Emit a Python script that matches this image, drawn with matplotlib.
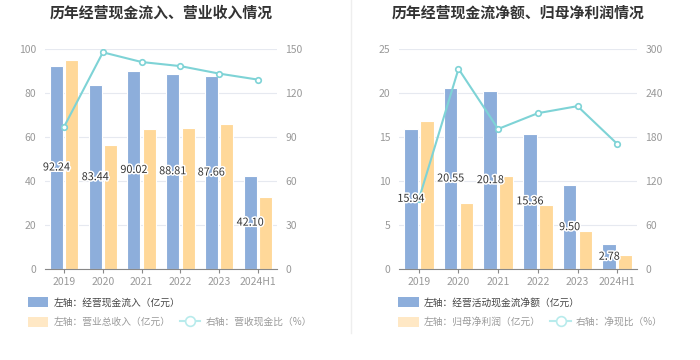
import numpy as np
import matplotlib
matplotlib.use('Agg')
import matplotlib.pyplot as plt
import matplotlib.patheffects as pe
from matplotlib.patches import Patch
from matplotlib.lines import Line2D

plt.rcParams['font.family'] = ['Noto Sans CJK SC', 'DejaVu Sans']

# 数据
years = ['2019', '2020', '2021', '2022', '2023', '2024H1']

# 左图：经营现金流入 / 营业总收入 / 营收现金比
cash_in = [92.24, 83.44, 90.02, 88.81, 87.66, 42.10]
revenue = [95.0, 56.5, 63.8, 64.2, 65.8, 32.6]
cash_rev_ratio = [97.1, 147.7, 141.1, 138.3, 133.2, 129.1]

# 右图：经营活动现金流净额 / 归母净利润 / 净现比
net_cash = [15.94, 20.55, 20.18, 15.36, 9.50, 2.78]
net_profit = [16.82, 7.53, 10.57, 7.23, 4.28, 1.63]
net_cash_ratio = [94.8, 272.9, 190.9, 212.4, 222.0, 170.6]

BLUE = '#8DAEDB'
ORANGE = '#FFD899'
CYAN = '#7ED3D6'
TICK = '#999999'
GRID = '#E6E9F0'

fig = plt.figure(figsize=(7, 3.6), dpi=100)


def draw_panel(rect, title, bars1, bars2, line, ylim1, yticks1, ylim2, yticks2,
               leg_x, name1, name2, name3):
    ax = fig.add_axes(rect)
    ax2 = ax.twinx()
    x = np.arange(len(years))
    w = 0.34
    ax.bar(x - 0.2, bars1, w, color=BLUE, edgecolor='white', linewidth=0.8, zorder=2)
    ax.bar(x + 0.2, bars2, w, color=ORANGE, edgecolor='white', linewidth=0.8, zorder=2)
    ax.set_ylim(*ylim1)
    ax.set_yticks(yticks1)
    ax.set_xlim(-0.5, len(years) - 0.5)
    ax.set_xticks(x)
    ax.set_xticklabels(years)
    ax.grid(axis='y', color=GRID, linewidth=0.8, zorder=0)
    ax.set_axisbelow(True)
    for s in ['top', 'left', 'right']:
        ax.spines[s].set_visible(False)
    ax.spines['bottom'].set_color('#888888')
    ax.tick_params(axis='y', length=0, colors=TICK, labelsize=7.5, pad=6)
    ax.tick_params(axis='x', length=3, color='#888888', colors=TICK, labelsize=7.5, pad=3)

    ax2.plot(x, line, color=CYAN, linewidth=1.5, marker='o', markersize=4,
             markerfacecolor='white', markeredgecolor=CYAN, markeredgewidth=1.2, zorder=3)
    ax2.set_ylim(*ylim2)
    ax2.set_yticks(yticks2)
    for s in ['top', 'left', 'right', 'bottom']:
        ax2.spines[s].set_visible(False)
    ax2.tick_params(axis='y', length=0, colors=TICK, labelsize=7.5, pad=6)

    # 柱中间的数值标签
    for xi, v in zip(x, bars1):
        t = ax2.text(xi - 0.2, v / 2, f'{v:.2f}', transform=ax.transData,
                     ha='center', va='center', fontsize=7.8, color='#333333', zorder=5)
        t.set_path_effects([pe.withStroke(linewidth=2.2, foreground='white')])

    fig.text(rect[0] + rect[2] / 2, 0.965, title, ha='center', va='center',
             fontsize=10.7, fontweight='bold', color='#333333')

    h1 = Patch(facecolor=BLUE, edgecolor='none')
    h2 = Patch(facecolor='#FFE8C5', edgecolor='none')
    h3 = Line2D([], [], color='#B8EBEC', linewidth=1.5, marker='o', markersize=7,
                markerfacecolor='white', markeredgecolor='#B8EBEC', markeredgewidth=1.2)
    lg1 = fig.legend([h1], [name1], loc='center left', bbox_to_anchor=(leg_x, 0.161),
                     frameon=False, fontsize=7, handlelength=2.1, handleheight=1.3,
                     handletextpad=0.5, borderpad=0, borderaxespad=0)
    for t in lg1.get_texts():
        t.set_color('#444444')
    lg2 = fig.legend([h2, h3], [name2, name3], loc='center left', bbox_to_anchor=(leg_x, 0.106),
                     frameon=False, fontsize=7, handlelength=2.1, handleheight=1.3,
                     handletextpad=0.5, borderpad=0, borderaxespad=0, ncol=2,
                     columnspacing=1.0)
    for t in lg2.get_texts():
        t.set_color('#999999')
    return ax, ax2


draw_panel([0.064, 0.253, 0.332, 0.611], '历年经营现金流入、营业收入情况',
           cash_in, revenue, cash_rev_ratio, (0, 100), [0, 20, 40, 60, 80, 100],
           (0, 150), [0, 30, 60, 90, 120, 150], 0.040,
           '左轴：经营现金流入（亿元）', '左轴：营业总收入（亿元）', '右轴：营收现金比（%）')

draw_panel([0.570, 0.253, 0.340, 0.611], '历年经营现金流净额、归母净利润情况',
           net_cash, net_profit, net_cash_ratio, (0, 25), [0, 5, 10, 15, 20, 25],
           (0, 300), [0, 60, 120, 180, 240, 300], 0.569,
           '左轴：经营活动现金流净额（亿元）', '左轴：归母净利润（亿元）', '右轴：净现比（%）')

fig.add_artist(Line2D([0.502, 0.502], [0.075, 1.0], transform=fig.transFigure,
                      color='#EEEEEE', linewidth=1))

fig.savefig('out.png', dpi=100)
